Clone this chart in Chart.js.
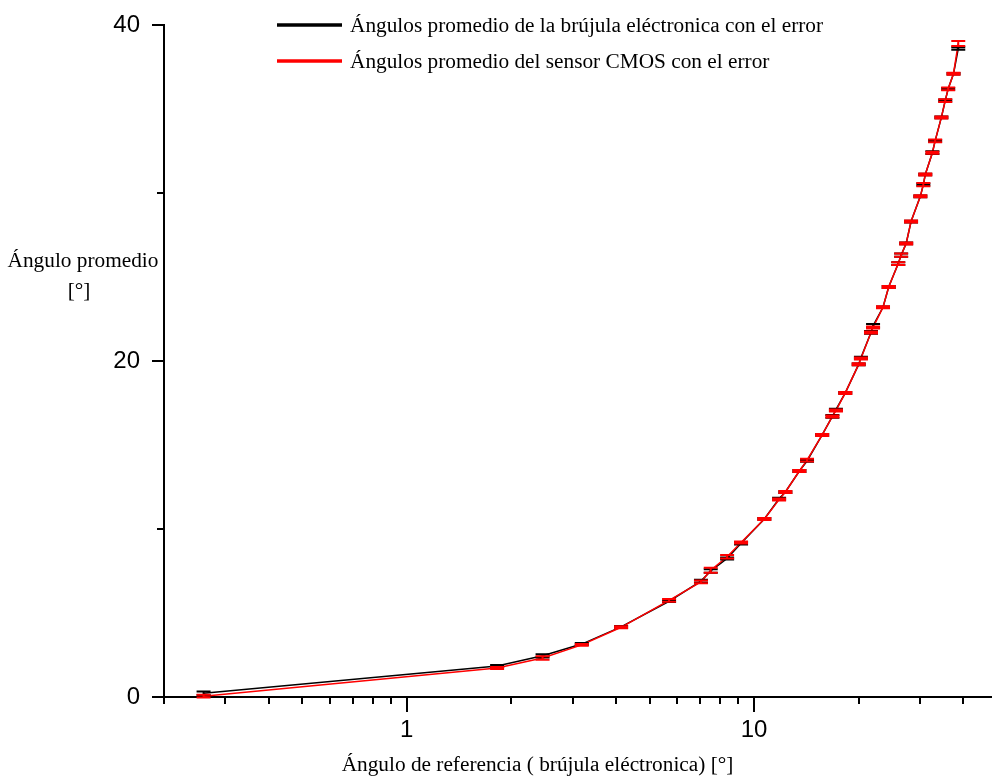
<!DOCTYPE html>
<html><head><meta charset="utf-8">
<script src="https://cdn.jsdelivr.net/npm/chart.js@4.4.1/dist/chart.umd.min.js"></script>
<style>html,body{margin:0;padding:0;background:#fff;}canvas{display:block;}</style>
</head><body>
<canvas id="c" width="992" height="781"></canvas>
<script>
// ---- data ----
const refAngles    = [0.26,1.82,2.46,3.19,4.14,5.69,7.03,7.5,8.36,9.17,10.7,11.8,12.3,13.5,14.2,15.7,16.8,17.2,18.3,20.0,20.3,21.7,22.0,23.5,24.4,26.0,26.5,27.4,28.3,30.1,30.7,31.1,32.6,33.2,34.6,35.5,36.2,37.5,38.7];
const compassMeans = [0.22,1.85,2.45,3.15,4.17,5.7,6.9,7.5,8.25,9.15,10.6,11.8,12.2,13.45,14.05,15.6,16.7,17.1,18.1,19.8,20.2,21.7,22.1,23.2,24.4,25.8,26.3,27.0,28.3,29.8,30.5,31.1,32.4,33.1,34.5,35.5,36.2,37.1,38.6];
const compassErr   = [0.1,0.06,0.1,0.06,0.06,0.05,0.08,0.1,0.06,0.08,0.05,0.06,0.05,0.06,0.05,0.05,0.08,0.06,0.05,0.05,0.06,0.08,0.1,0.05,0.06,0.08,0.1,0.05,0.05,0.05,0.06,0.05,0.08,0.05,0.05,0.06,0.05,0.05,0.08];
const cmosMeans    = [0.05,1.72,2.32,3.1,4.15,5.75,6.85,7.55,8.35,9.2,10.6,11.75,12.2,13.45,14.1,15.6,16.7,17.05,18.1,19.8,20.15,21.7,22.0,23.2,24.4,25.8,26.3,27.0,28.3,29.8,30.5,31.1,32.4,33.1,34.5,35.5,36.2,37.1,38.9];
const cmosErr      = [0.08,0.06,0.1,0.05,0.06,0.08,0.08,0.15,0.1,0.06,0.06,0.06,0.06,0.06,0.08,0.06,0.06,0.06,0.06,0.06,0.06,0.06,0.06,0.06,0.06,0.08,0.1,0.06,0.06,0.06,0.1,0.06,0.06,0.08,0.06,0.08,0.08,0.06,0.15];
const seriesLabels = ['Ángulos promedio de la brújula eléctronica con el error','Ángulos promedio del sensor CMOS con el error'];
const seriesColors = ['#000000','#ff0000'];
const xTickValues  = [0.2,0.3,0.4,0.5,0.6,0.7,0.8,0.9,1,2,3,4,5,6,7,8,9,10,20,30,40];
const xTickLabels  = {1:'1',10:'10'};
const yTickValues  = [0,10,20,30,40];
const yTickLabels  = {0:'0',20:'20',40:'40'};
const xTitle       = 'Ángulo de referencia ( brújula eléctronica) [°]';
const yTitleLines  = ['Ángulo promedio','[°]'];

const SERIF = '"Liberation Serif","Times New Roman",serif';
const SANS  = '"Liberation Sans",Arial,sans-serif';

function pts(xs, ys, es){ return xs.map((x,i)=>({x:x, y:ys[i], e:es[i]})); }

const errorBars = {
  id:'errorBars',
  afterDatasetsDraw(chart){
    const {ctx, scales:{x,y}} = chart;
    chart.data.datasets.forEach((ds)=>{
      ctx.save();
      ctx.strokeStyle = ds.borderColor; ctx.lineWidth = 2;
      ds.data.forEach(p=>{
        const px = x.getPixelForValue(p.x);
        const y1 = y.getPixelForValue(p.y - p.e), y2 = y.getPixelForValue(p.y + p.e);
        ctx.beginPath();
        ctx.moveTo(px,y1); ctx.lineTo(px,y2);
        ctx.moveTo(px-7,y1); ctx.lineTo(px+7,y1);
        ctx.moveTo(px-7,y2); ctx.lineTo(px+7,y2);
        ctx.stroke();
      });
      ctx.restore();
    });
  }
};

const decor = {
  id:'decor',
  afterDraw(chart){
    const {ctx, scales:{x,y}} = chart;
    ctx.save();
    ctx.strokeStyle = '#000'; ctx.lineWidth = 2;
    // x tick marks
    const xb = x.top;
    x.ticks.forEach(t=>{
      const px = Math.round(x.getPixelForValue(t.value));
      const len = (t.value in xTickLabels) ? 15 : 7;
      ctx.beginPath(); ctx.moveTo(px, xb); ctx.lineTo(px, xb+len); ctx.stroke();
    });
    // y tick marks
    const yr = y.right;
    y.ticks.forEach(t=>{
      const py = Math.round(y.getPixelForValue(t.value));
      const len = (t.value in yTickLabels) ? 12 : 7;
      ctx.beginPath(); ctx.moveTo(yr, py); ctx.lineTo(yr-len, py); ctx.stroke();
    });
    ctx.fillStyle = '#000';
    ctx.font = '21.3px ' + SERIF;
    ctx.textBaseline = 'alphabetic';
    // x title
    ctx.textAlign = 'center';
    ctx.fillText(xTitle, 537.5, 771);
    // y title (horizontal, two lines)
    ctx.fillText(yTitleLines[0], 83, 267);
    ctx.fillText(yTitleLines[1], 79, 297);
    // legend
    chart.data.datasets.forEach((ds,i)=>{
      const ly = 25 + i*36;
      ctx.strokeStyle = ds.borderColor; ctx.lineWidth = 3.5;
      ctx.beginPath(); ctx.moveTo(277, ly); ctx.lineTo(342, ly); ctx.stroke();
      ctx.textAlign = 'left';
      ctx.fillText(ds.label, 350, ly + 7);
    });
    ctx.restore();
  }
};

new Chart(document.getElementById('c'), {
  type:'line',
  data:{
    datasets:[
      {label:seriesLabels[0], data:pts(refAngles, compassMeans, compassErr), borderColor:seriesColors[0], backgroundColor:seriesColors[0], borderWidth:1.5, pointRadius:0, tension:0, order:2},
      {label:seriesLabels[1], data:pts(refAngles, cmosMeans, cmosErr), borderColor:seriesColors[1], backgroundColor:seriesColors[1], borderWidth:1.5, pointRadius:0, tension:0, order:1}
    ]
  },
  options:{
    responsive:false, animation:false, devicePixelRatio:1,
    layout:{padding:{top:25, right:0, left:0, bottom:0}},
    plugins:{legend:{display:false}, tooltip:{enabled:false}},
    scales:{
      x:{
        type:'logarithmic', min:0.2, max:48.4,
        afterBuildTicks(s){ s.ticks = xTickValues.map(v=>({value:v})); },
        afterFit(s){ s.height = 84; s.paddingLeft = 0; s.paddingRight = 0; },
        grid:{display:false, drawTicks:false},
        border:{display:true, color:'#000', width:2},
        ticks:{autoSkip:false, maxRotation:0, minRotation:0, padding:19, color:'#000', font:{family:SANS, size:24},
          callback:(v)=> (v in xTickLabels) ? xTickLabels[v] : ''},
        title:{display:false}
      },
      y:{
        type:'linear', min:0, max:40,
        afterBuildTicks(s){ s.ticks = yTickValues.map(v=>({value:v})); },
        afterFit(s){ s.width = 164; s.paddingTop = 0; s.paddingBottom = 0; },
        grid:{display:false, drawTicks:false},
        border:{display:true, color:'#000', width:2},
        ticks:{padding:24, color:'#000', font:{family:SANS, size:24},
          callback:(v)=> (v in yTickLabels) ? yTickLabels[v] : ''}
      }
    }
  },
  plugins:[errorBars, decor]
});
</script>
</body></html>
